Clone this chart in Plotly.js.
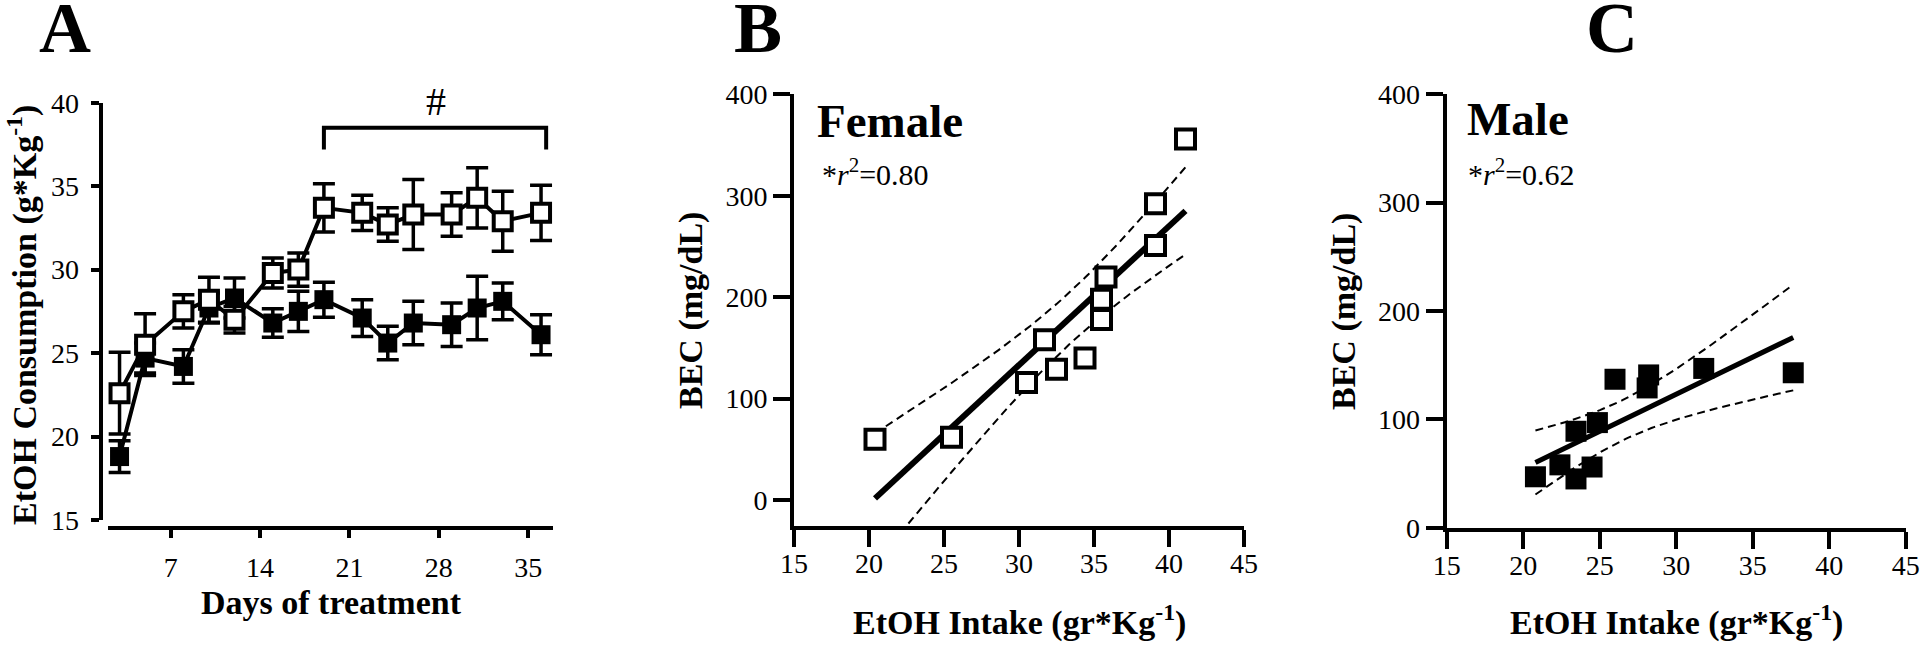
<!DOCTYPE html>
<html><head><meta charset="utf-8">
<script src="https://cdn.plot.ly/plotly-3.0.1.min.js"></script>
<style>html,body{margin:0;padding:0;background:#fff}#chart{width:1920px;height:645px}</style>
</head><body><div id="chart"></div>
<script>
// ---------- Panel A: EtOH consumption over days ----------
const days = [3, 5, 8, 10, 12, 15, 17, 19, 22, 24, 26, 29, 31, 33, 36];
const femaleConsumption = [22.6, 25.5, 27.5, 28.2, 27.0, 29.8, 30.0, 33.7, 33.4, 32.7, 33.3, 33.3, 34.3, 32.9, 33.4];
const femaleSEM = [2.45, 1.85, 1.0, 1.35, 0.8, 0.9, 1.0, 1.45, 1.05, 1.0, 2.1, 1.3, 1.8, 1.8, 1.65];
const maleConsumption = [18.8, 24.7, 24.2, 27.7, 28.3, 26.8, 27.5, 28.2, 27.1, 25.6, 26.8, 26.7, 27.7, 28.1, 26.1];
const maleSEM = [0.95, 0.9, 1.0, 0.9, 1.2, 0.85, 1.2, 1.05, 1.1, 1.0, 1.3, 1.3, 1.9, 1.1, 1.2];
const dayTicks = [7, 14, 21, 28, 35];
const bracketDays = [19, 36.4];
const bracketLevels = [37.2, 38.5];
const hashMark = '#';

// ---------- Panel B: Female BEC vs intake ----------
const femaleIntake = [20.4, 25.5, 30.5, 31.7, 32.5, 34.4, 35.5, 35.5, 35.8, 39.1, 39.1, 41.1];
const femaleBEC = [60, 62, 116, 158, 129, 140, 178, 198, 220, 251, 292, 356];
const femaleT = 2.228; // t(0.975, df=10)
const femaleR2 = '0.80';

// ---------- Panel C: Male BEC vs intake ----------
const maleIntake = [20.8, 22.4, 23.45, 24.5, 23.45, 24.85, 26.0, 28.2, 28.1, 31.8, 37.65];
const maleBEC = [47, 58, 45, 56, 89, 97, 137, 141, 129, 147, 143];
const maleT = 2.262; // t(0.975, df=9)
const maleR2 = '0.62';

const becTicks = [0, 100, 200, 300, 400];
const intakeTicks = [15, 20, 25, 30, 35, 40, 45];

// ---------- regression helpers ----------
function linfit(xs, ys) {
  const n = xs.length;
  const mx = xs.reduce((a, b) => a + b, 0) / n;
  const my = ys.reduce((a, b) => a + b, 0) / n;
  let sxx = 0, sxy = 0, syy = 0;
  for (let i = 0; i < n; i++) {
    sxx += (xs[i] - mx) ** 2; sxy += (xs[i] - mx) * (ys[i] - my); syy += (ys[i] - my) ** 2;
  }
  const slope = sxy / sxx, intercept = my - slope * mx;
  const sse = syy - sxy * sxy / sxx;
  return {n, mx, sxx, slope, intercept, s: Math.sqrt(sse / (n - 2))};
}
function bands(xs, ys, tcrit) {
  const f = linfit(xs, ys);
  const lo = Math.min(...xs), hi = Math.max(...xs);
  const gx = [], fit = [], up = [], dn = [];
  const steps = 80;
  for (let i = 0; i <= steps; i++) {
    const x = lo + (hi - lo) * i / steps;
    const yh = f.intercept + f.slope * x;
    const hw = tcrit * f.s * Math.sqrt(1 / f.n + (x - f.mx) ** 2 / f.sxx);
    gx.push(x); fit.push(yh); up.push(yh + hw); dn.push(yh - hw);
  }
  return {gx, fit, up, dn};
}

const FONT = "'Liberation Serif', serif";
const W = 1920, H = 645;
const bandB = bands(femaleIntake, femaleBEC, femaleT);
const bandC = bands(maleIntake, maleBEC, maleT);

const traces = [
  // Panel A
  {x: days, y: maleConsumption, xaxis: 'x', yaxis: 'y', type: 'scatter', mode: 'lines+markers', cliponaxis: false,
   line: {color: '#000', width: 4},
   marker: {symbol: 'square', size: 19, color: '#000'},
   error_y: {type: 'data', array: maleSEM, visible: true, color: '#000', thickness: 3.5, width: 11}},
  {x: days, y: femaleConsumption, xaxis: 'x', yaxis: 'y', type: 'scatter', mode: 'lines+markers', cliponaxis: false,
   line: {color: '#000', width: 4},
   marker: {symbol: 'square', size: 18, color: '#fff', line: {color: '#000', width: 4}},
   error_y: {type: 'data', array: femaleSEM, visible: true, color: '#000', thickness: 3.5, width: 11}},
  // Panel B
  {x: bandB.gx, y: bandB.up, xaxis: 'x2', yaxis: 'y2', mode: 'lines', line: {color: '#000', width: 2, dash: '8px,5px'}},
  {x: bandB.gx, y: bandB.dn, xaxis: 'x2', yaxis: 'y2', mode: 'lines', line: {color: '#000', width: 2, dash: '8px,5px'}},
  {x: bandB.gx, y: bandB.fit, xaxis: 'x2', yaxis: 'y2', mode: 'lines', line: {color: '#000', width: 6}},
  {x: femaleIntake, y: femaleBEC, xaxis: 'x2', yaxis: 'y2', mode: 'markers', cliponaxis: false,
   marker: {symbol: 'square', size: 19, color: '#fff', line: {color: '#000', width: 4}}},
  // Panel C
  {x: bandC.gx, y: bandC.up, xaxis: 'x3', yaxis: 'y3', mode: 'lines', line: {color: '#000', width: 2, dash: '8px,5px'}},
  {x: bandC.gx, y: bandC.dn, xaxis: 'x3', yaxis: 'y3', mode: 'lines', line: {color: '#000', width: 2, dash: '8px,5px'}},
  {x: bandC.gx, y: bandC.fit, xaxis: 'x3', yaxis: 'y3', mode: 'lines', line: {color: '#000', width: 5}},
  {x: maleIntake, y: maleBEC, xaxis: 'x3', yaxis: 'y3', mode: 'markers', cliponaxis: false,
   marker: {symbol: 'square', size: 21, color: '#000'}}
];

const tickFont = {family: FONT, size: 28, color: '#000'};
const axBase = {showline: true, linecolor: '#000', linewidth: 4, ticks: 'outside', tickcolor: '#000', tickwidth: 4,
  showgrid: false, zeroline: false, tickfont: tickFont, fixedrange: true};

const px = v => v / W, py = v => 1 - v / H;

function txt(text, x, y, size, opts) {
  return Object.assign({xref: 'paper', yref: 'paper', x: px(x), y: py(y), text, showarrow: false,
    font: {family: FONT, size, color: '#000'}, xanchor: 'center', yanchor: 'middle'}, opts || {});
}

const layout = {
  width: W, height: H, margin: {l: 0, r: 0, t: 0, b: 0},
  paper_bgcolor: '#fff', plot_bgcolor: 'rgba(0,0,0,0)', showlegend: false,
  font: {family: FONT, color: '#000'},
  xaxis: Object.assign({}, axBase, {domain: [px(108.3), px(553.3)], range: [2.12, 36.96], anchor: 'free', position: py(528.3),
    tickmode: 'array', tickvals: dayTicks, ticklen: 8, ticklabelstandoff: 5}),
  yaxis: Object.assign({}, axBase, {domain: [py(520), py(102.7)], range: [15, 40], anchor: 'free', position: px(100.7),
    tickmode: 'linear', tick0: 15, dtick: 5, ticklen: 8, ticklabelstandoff: 6}),
  xaxis2: Object.assign({}, axBase, {domain: [px(794), px(1244)], range: [15, 45], anchor: 'y2',
    tickmode: 'array', tickvals: intakeTicks, ticklen: 17, ticklabelstandoff: -7}),
  yaxis2: Object.assign({}, axBase, {domain: [py(525.5), py(94.3)], range: [-25.1, 400], anchor: 'x2',
    tickmode: 'array', tickvals: becTicks, ticklen: 17, ticklabelstandoff: 0}),
  xaxis3: Object.assign({}, axBase, {domain: [px(1446.7), px(1905.7)], range: [15, 45], anchor: 'y3',
    tickmode: 'array', tickvals: intakeTicks, ticklen: 17, ticklabelstandoff: -7}),
  yaxis3: Object.assign({}, axBase, {domain: [py(527.7), py(94.3)], range: [0, 400], anchor: 'x3',
    tickmode: 'array', tickvals: becTicks, ticklen: 17, ticklabelstandoff: 0}),
  shapes: [
    {type: 'path', xref: 'x', yref: 'y',
     path: `M${bracketDays[0]},${bracketLevels[0]} L${bracketDays[0]},${bracketLevels[1]} L${bracketDays[1]},${bracketLevels[1]} L${bracketDays[1]},${bracketLevels[0]}`,
     line: {color: '#000', width: 4}}
  ],
  annotations: [
    {xref: 'x', yref: 'paper', x: (bracketDays[0] + bracketDays[1]) / 2 + 0.1, y: py(101), text: hashMark, showarrow: false,
     font: {family: FONT, size: 40, color: '#000'}, xanchor: 'center', yanchor: 'middle'},
    // panel letters
    txt('<b>A</b>', 64.5, 28, 72),
    txt('<b>B</b>', 758, 28, 72),
    txt('<b>C</b>', 1612, 28, 72),
    // axis titles
    txt('<b>EtOH Consumption (g*Kg<sup>-1</sup>)</b>', 22, 315, 34, {textangle: -90}),
    txt('<b>Days of treatment</b>', 331, 602, 34),
    txt('<b>BEC (mg/dL)</b>', 691, 311, 34, {textangle: -90}),
    txt('<b>EtOH Intake (gr*Kg<sup>-1</sup>)</b>', 1019, 620, 34),
    txt('<b>BEC (mg/dL)</b>', 1344, 312, 34, {textangle: -90}),
    txt('<b>EtOH Intake (gr*Kg<sup>-1</sup>)</b>', 1676, 620, 34),
    // panel labels
    txt('<b>Female</b>', 815, 121, 47, {xanchor: 'left'}),
    txt('*<i>r</i><sup>2</sup>=' + femaleR2, 820, 172, 30, {xanchor: 'left'}),
    txt('<b>Male</b>', 1465, 119, 47, {xanchor: 'left'}),
    txt('*<i>r</i><sup>2</sup>=' + maleR2, 1466, 172, 30, {xanchor: 'left'})
  ]
};

Plotly.newPlot('chart', traces, layout, {displayModeBar: false, staticPlot: true});
</script>
</body></html>
